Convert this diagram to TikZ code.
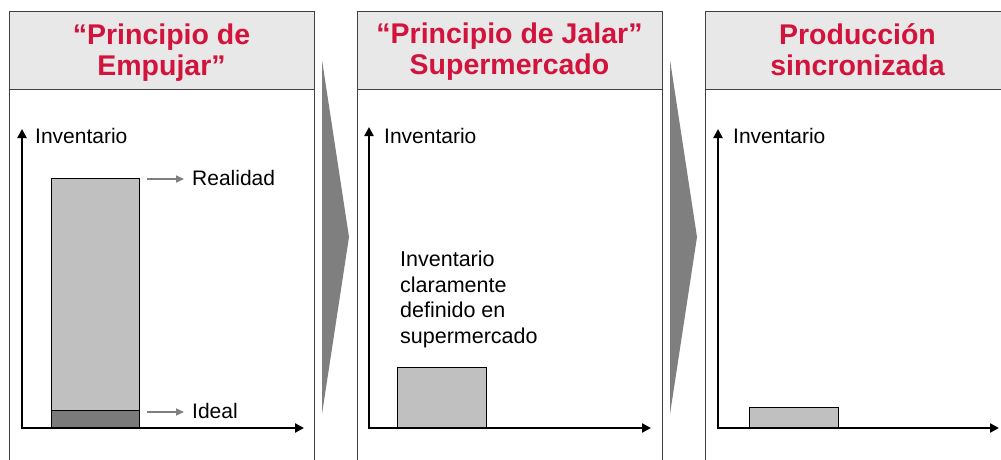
\documentclass[tikz,border=0pt]{standalone}
\usepackage{fontspec}
\setmainfont{Liberation Sans}
\usetikzlibrary{arrows.meta}
\definecolor{titlered}{HTML}{D2133C}
\definecolor{hdrgray}{HTML}{E8E8E8}
\definecolor{barlight}{HTML}{C0C0C0}
\definecolor{bardark}{HTML}{7A7A7A}
\definecolor{chevgray}{HTML}{7F7F7F}
\definecolor{framegray}{HTML}{404040}
\tikzset{
  panelbox/.style={draw=framegray, line width=0.9pt, fill=white},
  hdrbox/.style={draw=framegray, line width=0.9pt, fill=hdrgray},
  titletext/.style={text=titlered, font=\fontsize{28.5}{31}\selectfont\bfseries, align=center, inner sep=0pt},
  axislabel/.style={font=\fontsize{21}{25}\selectfont, anchor=base west, inner sep=0pt},
  axisline/.style={line width=2.4pt, -{Triangle[length=9pt,width=9pt]}},
  barbox/.style={draw=black, line width=0.9pt, fill=barlight},
  pointer/.style={draw=chevgray, line width=1.6pt, -{Triangle[length=8pt,width=7pt]}},
  chevron/.style={fill=chevgray, draw=none}
}
\begin{document}
\begin{tikzpicture}[x=1pt,y=-1pt]
\useasboundingbox (0,0) rectangle (1001,460);
\clip (0,0) rectangle (1001,460);
% panels
\foreach \px/\nm in {9/p1,357/p2,705/p3}{
  \draw[panelbox] (\px,11) rectangle ++(305,470);
  \draw[hdrbox] (\px,11) rectangle ++(305,78);
}
% titles
\node[titletext] (t1) at (161.5,53) {“Principio de\\Empujar”};
\node[titletext] (t2) at (509.5,52) {“Principio de Jalar”\\Supermercado};
\node[titletext] (t3) at (857.5,50) {Producción\\sincronizada};
% chevrons
\fill[chevron] (322,60) -- (349,237) -- (322,414) -- cycle;
\fill[chevron] (670,60) -- (697,237) -- (670,414) -- cycle;
% panel 1 chart
\coordinate (o1) at (22,428);
\coordinate (y1) at (22,129);
\coordinate (x1) at (304,428);
\node[barbox, anchor=north west, minimum width=88pt, minimum height=232pt, inner sep=0pt, outer sep=0pt] (b1) at (51,178) {};
\node[draw=black, line width=0.9pt, fill=bardark, anchor=south west, minimum width=88pt, minimum height=18pt, inner sep=0pt, outer sep=0pt] (b1i) at (51,428) {};
\draw[axisline] (o1) -- (y1);
\draw[axisline] ([xshift=-1.2pt]o1) -- (x1);
\node[axislabel] (l1) at (35,143) {Inventario};
\node[axislabel] (real) at (192,185) {Realidad};
\node[axislabel] (ideal) at (192,418) {Ideal};
\coordinate (ra) at (147,179);
\coordinate (ia) at (147,412);
\draw[pointer] (ra) -- ([xshift=-8pt]real.west |- ra);
\draw[pointer] (ia) -- ([xshift=-8pt]ideal.west |- ia);
% panel 2 chart
\coordinate (o2) at (369,428);
\coordinate (y2) at (369,127);
\coordinate (x2) at (651,428);
\node[barbox, anchor=south west, minimum width=89pt, minimum height=61pt, inner sep=0pt, outer sep=0pt] (b2) at (397,428) {};
\draw[axisline] (o2) -- (y2);
\draw[axisline] ([xshift=-1.2pt]o2) -- (x2);
\node[axislabel] (l2) at (384,143) {Inventario};
\node[font=\fontsize{21.5}{25.5}\selectfont, align=left, anchor=north west, inner sep=0pt] (d2) at (400,251) {Inventario\\claramente\\definido en\\supermercado};
% panel 3 chart
\coordinate (o3) at (718,428);
\coordinate (y3) at (718,129);
\coordinate (x3) at (999,428);
\node[barbox, anchor=south west, minimum width=89pt, minimum height=21pt, inner sep=0pt, outer sep=0pt] (b3) at (749,428) {};
\draw[axisline] (o3) -- (y3);
\draw[axisline] ([xshift=-1.2pt]o3) -- (x3);
\node[axislabel] (l3) at (733,143) {Inventario};
\end{tikzpicture}
\end{document}
